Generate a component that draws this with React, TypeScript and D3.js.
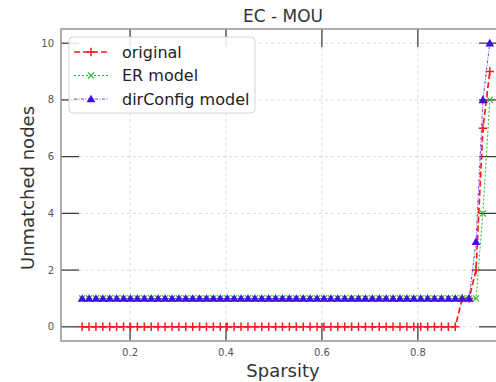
import React from "react";
import * as d3 from "d3";

const sparsity = [
  0.1, 0.1144, 0.1288, 0.1432, 0.1576, 0.172, 0.1864, 0.2008, 0.2153, 0.2297,
  0.2441, 0.2585, 0.2729, 0.2873, 0.3017, 0.3161, 0.3305, 0.3449, 0.3593, 0.3737,
  0.3881, 0.4025, 0.4169, 0.4314, 0.4458, 0.4602, 0.4746, 0.489, 0.5034, 0.5178,
  0.5322, 0.5466, 0.561, 0.5754, 0.5898, 0.6042, 0.6186, 0.6331, 0.6475, 0.6619,
  0.6763, 0.6907, 0.7051, 0.7195, 0.7339, 0.7483, 0.7627, 0.7771, 0.7915, 0.8059,
  0.8203, 0.8347, 0.8492, 0.8636, 0.878, 0.8924, 0.9068, 0.9212, 0.9356, 0.95,
];

const original = [
  0, 0, 0, 0, 0, 0, 0, 0, 0, 0,
  0, 0, 0, 0, 0, 0, 0, 0, 0, 0,
  0, 0, 0, 0, 0, 0, 0, 0, 0, 0,
  0, 0, 0, 0, 0, 0, 0, 0, 0, 0,
  0, 0, 0, 0, 0, 0, 0, 0, 0, 0,
  0, 0, 0, 0, 0, 1, 1, 2, 7, 9,
];

const erModel = [
  1, 1, 1, 1, 1, 1, 1, 1, 1, 1,
  1, 1, 1, 1, 1, 1, 1, 1, 1, 1,
  1, 1, 1, 1, 1, 1, 1, 1, 1, 1,
  1, 1, 1, 1, 1, 1, 1, 1, 1, 1,
  1, 1, 1, 1, 1, 1, 1, 1, 1, 1,
  1, 1, 1, 1, 1, 1, 1, 1, 4, 8,
];

const dirConfig = [
  1, 1, 1, 1, 1, 1, 1, 1, 1, 1,
  1, 1, 1, 1, 1, 1, 1, 1, 1, 1,
  1, 1, 1, 1, 1, 1, 1, 1, 1, 1,
  1, 1, 1, 1, 1, 1, 1, 1, 1, 1,
  1, 1, 1, 1, 1, 1, 1, 1, 1, 1,
  1, 1, 1, 1, 1, 1, 1, 3, 8, 10,
];

const xTicks = [0.2, 0.4, 0.6, 0.8];
const yTicks = [0, 2, 4, 6, 8, 10];
const seriesNames = ["original", "ER model", "dirConfig model"];

const W = 496;
const H = 382;
const plot = { left: 61, right: 497, top: 29, bottom: 341 };
const FONT = "DejaVu Sans, sans-serif";

const RED = "#ff1a1a";
const GREEN = "#2db52d";
const BLUE_LINE = "#7b3ff2";
const BLUE_MARK = "#3c10e0";

function Marker({ kind, x, y }: { kind: string; x: number; y: number }) {
  if (kind === "plus") {
    const s = 4.2;
    return (
      <path
        d={`M${x - s},${y}H${x + s}M${x},${y - s}V${y + s}`}
        stroke={RED}
        strokeWidth={1.5}
        fill="none"
      />
    );
  }
  if (kind === "x") {
    const s = 3;
    return (
      <path
        d={`M${x - s},${y - s}L${x + s},${y + s}M${x - s},${y + s}L${x + s},${y - s}`}
        stroke={GREEN}
        strokeWidth={1.1}
        fill="none"
      />
    );
  }
  const tri = d3.symbol(d3.symbolTriangle, 34)()!;
  return <path d={tri} transform={`translate(${x},${y + 0.8})`} fill={BLUE_MARK} />;
}

export default function App() {
  const x = d3.scaleLinear().domain([0.056, 0.965]).range([plot.left, plot.right]);
  const y = d3.scaleLinear().domain([-0.5, 10.5]).range([plot.bottom, plot.top]);

  const series = [
    { name: seriesNames[0], values: original, color: RED, dash: "6,3", width: 1.7, marker: "plus" },
    { name: seriesNames[1], values: erModel, color: GREEN, dash: "2,2", width: 1, marker: "x" },
    { name: seriesNames[2], values: dirConfig, color: BLUE_LINE, dash: "3,1.5,1,1.5", width: 1, marker: "tri" },
  ];

  const line = d3
    .line<number>()
    .x((_, i) => x(sparsity[i]))
    .y((d) => y(d));

  const legendX = 69;
  const legendY = 37;
  const rowH = 23.5;

  return (
    <svg
      width={W}
      height={H}
      style={{ position: "absolute", left: 0, top: 0, background: "#fff" }}
      fontFamily={FONT}
    >
      <defs>
        <clipPath id="plotclip">
          <rect x={plot.left} y={plot.top} width={plot.right - plot.left} height={plot.bottom - plot.top} />
        </clipPath>
      </defs>

      {/* grid */}
      {xTicks.map((t) => (
        <line key={"gx" + t} x1={x(t)} x2={x(t)} y1={plot.top} y2={plot.bottom}
          stroke="#d0d0d0" strokeWidth={0.8} strokeDasharray="3,3" />
      ))}
      {yTicks.map((t) => (
        <line key={"gy" + t} x1={plot.left} x2={plot.right} y1={y(t)} y2={y(t)}
          stroke="#d0d0d0" strokeWidth={0.8} strokeDasharray="3,3" />
      ))}

      {/* ticks, inward on all sides */}
      {xTicks.map((t) => (
        <g key={"tx" + t} stroke="#333" strokeWidth={1.2}>
          <line x1={x(t)} x2={x(t)} y1={plot.bottom} y2={plot.bottom - 18} />
          <line x1={x(t)} x2={x(t)} y1={plot.top} y2={plot.top + 18} />
        </g>
      ))}
      {yTicks.map((t) => (
        <g key={"ty" + t} stroke="#333" strokeWidth={1.2}>
          <line x1={plot.left} x2={plot.left + 18} y1={y(t)} y2={y(t)} />
          <line x1={plot.right} x2={plot.right - 18} y1={y(t)} y2={y(t)} />
        </g>
      ))}

      {/* series */}
      <g clipPath="url(#plotclip)">
        {series.map((s) => (
          <g key={s.name}>
            <path d={line(s.values)!} fill="none" stroke={s.color} strokeWidth={s.width}
              strokeDasharray={s.dash} />
            {s.values.map((v, i) => (
              <Marker key={i} kind={s.marker} x={x(sparsity[i])} y={y(v)} />
            ))}
          </g>
        ))}
      </g>

      {/* frame */}
      <rect x={plot.left} y={plot.top} width={plot.right - plot.left} height={plot.bottom - plot.top}
        fill="none" stroke="#9a9a9a" strokeWidth={1.6} />

      {/* tick labels */}
      {xTicks.map((t) => (
        <text key={"lx" + t} x={x(t)} y={plot.bottom + 15} textAnchor="middle" fontSize={10} fill="#555">
          {t.toFixed(1)}
        </text>
      ))}
      {yTicks.map((t) => (
        <text key={"ly" + t} x={plot.left - 7} y={y(t) + 3.5} textAnchor="end" fontSize={10} fill="#555">
          {t}
        </text>
      ))}

      {/* legend */}
      <rect x={legendX} y={legendY} width={186} height={76} rx={4}
        fill="#fff" fillOpacity={0.85} stroke="#d5d5d5" strokeWidth={1} />
      {series.map((s, i) => {
        const cy = legendY + 15 + i * rowH;
        return (
          <g key={"lg" + s.name}>
            <line x1={legendX + 5} x2={legendX + 39} y1={cy} y2={cy} stroke={s.color}
              strokeWidth={s.width} strokeDasharray={s.dash} />
            <Marker kind={s.marker} x={legendX + 22} y={cy} />
            <text x={legendX + 53} y={cy + 5.5} fontSize={16} fill="#222">{s.name}</text>
          </g>
        );
      })}

      {/* titles */}
      <text x={283} y={22} textAnchor="middle" fontSize={17} fill="#333">EC - MOU</text>
      <text x={283} y={377} textAnchor="middle" fontSize={18} fill="#333">
        Sparsity
      </text>
      <text transform={`translate(34,${(plot.top + plot.bottom) / 2 + 3}) rotate(-90)`}
        textAnchor="middle" fontSize={18} fill="#333">
        Unmatched nodes
      </text>
    </svg>
  );
}
